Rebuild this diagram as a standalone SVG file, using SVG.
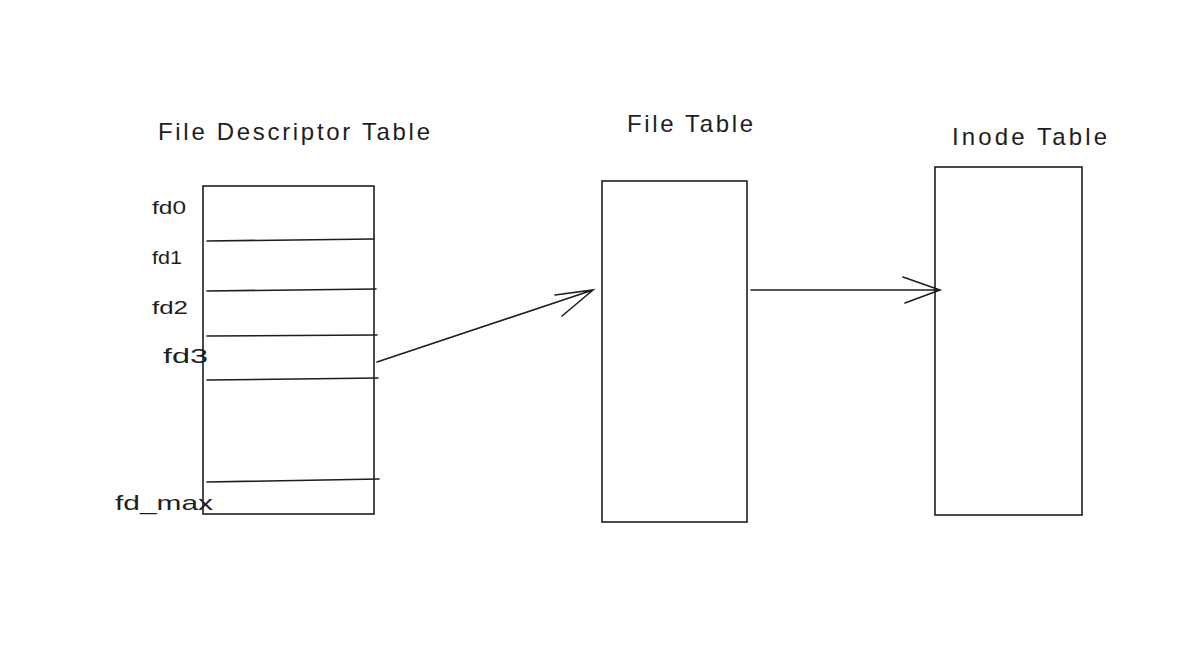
<svg xmlns="http://www.w3.org/2000/svg" width="1200" height="648" viewBox="0 0 1200 648">
<style>
.s{fill:none;stroke:#1e1e1e;stroke-width:1.6;stroke-linecap:round}
.t{font-family:"Liberation Sans",sans-serif;fill:#1e1e1e}
.h{font-size:24px}
.l{font-size:18px}
</style>
<rect width="1200" height="648" fill="#fff"/>
<g id="fdt">
<text class="t h" x="158" y="140" textLength="272" lengthAdjust="spacing">File Descriptor Table</text>
<rect class="s" x="203" y="186" width="171" height="328"/>
<path class="s" d="M207 241L374 239M207 291L376 289M207 336L377 335M207 380L378 378M207 482L379 479"/>
<text class="t l" x="152" y="214" textLength="34" lengthAdjust="spacingAndGlyphs">fd0</text>
<text class="t l" x="152" y="264" textLength="30" lengthAdjust="spacingAndGlyphs">fd1</text>
<text class="t l" x="152" y="314" textLength="36" lengthAdjust="spacingAndGlyphs">fd2</text>
<text class="t" font-size="21" x="163" y="363" textLength="45" lengthAdjust="spacingAndGlyphs">fd3</text>
<text class="t" font-size="21" x="115" y="510" textLength="98" lengthAdjust="spacingAndGlyphs">fd_max</text>
</g>
<g id="ft">
<text class="t h" x="627" y="132" textLength="126" lengthAdjust="spacing">File Table</text>
<rect class="s" x="602" y="181" width="145" height="341"/>
</g>
<g id="it">
<text class="t h" x="952" y="145" textLength="155" lengthAdjust="spacing">Inode Table</text>
<rect class="s" x="935" y="167" width="147" height="348"/>
</g>
<g id="connectors">
<path class="s" d="M377 362L593 290M562 316L593 290L555 295"/>
<path class="s" d="M751 290L940 290M905 303L940 290L903 277"/>
</g>
</svg>
